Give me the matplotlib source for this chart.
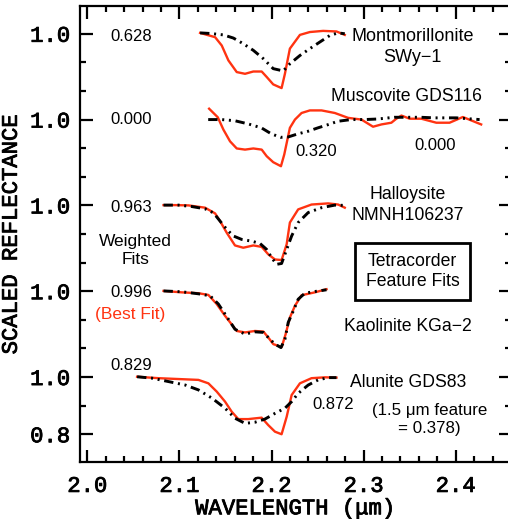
import numpy as np
import matplotlib.pyplot as plt
import matplotlib.patheffects as pe

# Longitudes de onda (um) y reflectancia escalada de cada mineral
# rojo = espectro de referencia, negro = ajuste ponderado
mont_x_red = [2.1224, 2.1387, 2.1459, 2.1531, 2.1622, 2.1712, 2.1802, 2.1893, 2.1947,
              2.2018, 2.2109, 2.2145, 2.2199, 2.2308, 2.2416, 2.2560, 2.2705, 2.2795]
mont_y_red = [1.003, 0.988, 0.959, 0.907, 0.866, 0.860, 0.868, 0.868, 0.849,
              0.823, 0.810, 0.860, 0.948, 0.996, 1.006, 1.010, 1.008, 0.996]
mont_x_blk = [2.1224, 2.1333, 2.1477, 2.1585, 2.1694, 2.1802, 2.1910, 2.2018, 2.2127,
              2.2199, 2.2308, 2.2416, 2.2524, 2.2633, 2.2723, 2.2795]
mont_y_blk = [1.003, 1.001, 0.996, 0.985, 0.965, 0.942, 0.913, 0.878, 0.870,
              0.895, 0.924, 0.948, 0.971, 0.994, 1.003, 1.000]

musc_x_red = [2.1322, 2.1416, 2.1477, 2.1549, 2.1622, 2.1712, 2.1802, 2.1893, 2.1947,
              2.2018, 2.2102, 2.2138, 2.2199, 2.2254, 2.2326, 2.2416, 2.2543, 2.2687,
              2.2831, 2.2976, 2.3102, 2.3193, 2.3301, 2.3355, 2.3410, 2.3500, 2.3626,
              2.3789, 2.3933, 2.4077, 2.4276]
musc_y_red = [1.038, 1.008, 0.965, 0.924, 0.899, 0.895, 0.899, 0.895, 0.872,
              0.851, 0.837, 0.878, 0.971, 1.000, 1.023, 1.032, 1.032, 1.023,
              1.006, 1.000, 0.975, 0.983, 0.989, 1.003, 1.014, 1.003, 1.003,
              0.989, 0.989, 1.009, 0.983]
musc_x_blk = [2.1312, 2.1456, 2.1600, 2.1745, 2.1890, 2.1998, 2.2099, 2.2178, 2.2286,
              2.2395, 2.2503, 2.2611, 2.2719, 2.2864, 2.3008, 2.3152, 2.3333, 2.3477,
              2.3622, 2.3766, 2.4006, 2.4259]
musc_y_blk = [1.000, 1.000, 0.996, 0.985, 0.971, 0.950, 0.938, 0.939, 0.950,
              0.959, 0.971, 0.982, 0.994, 1.000, 1.000, 1.002, 1.008, 1.008,
              1.008, 1.006, 1.006, 1.000]

hall_x_red = [2.0827, 2.0953, 2.1098, 2.1278, 2.1387, 2.1441, 2.1514, 2.1603, 2.1693,
              2.1802, 2.1893, 2.1964, 2.2037, 2.2109, 2.2164, 2.2199, 2.2289, 2.2434,
              2.2614, 2.2723, 2.2795]
hall_y_red = [1.001, 1.001, 1.000, 0.992, 0.972, 0.945, 0.904, 0.860, 0.852,
              0.860, 0.855, 0.829, 0.811, 0.809, 0.864, 0.940, 0.986, 1.003,
              1.007, 1.003, 0.992]
hall_x_blk = [2.0827, 2.0990, 2.1134, 2.1278, 2.1369, 2.1441, 2.1514, 2.1586, 2.1676,
              2.1784, 2.1874, 2.1947, 2.2001, 2.2055, 2.2109, 2.2164, 2.2218, 2.2289,
              2.2398, 2.2543, 2.2687, 2.2795]
hall_y_blk = [1.001, 1.001, 0.996, 0.988, 0.974, 0.945, 0.916, 0.893, 0.881,
              0.875, 0.867, 0.846, 0.817, 0.794, 0.797, 0.846, 0.893, 0.940,
              0.975, 0.992, 1.001, 1.000]

kaol_x_red = [2.0827, 2.1026, 2.1206, 2.1314, 2.1405, 2.1495, 2.1622, 2.1712, 2.1820,
              2.1911, 2.1965, 2.2019, 2.2110, 2.2153, 2.2199, 2.2254, 2.2326, 2.2470,
              2.2597]
kaol_y_red = [1.001, 0.996, 0.993, 0.987, 0.955, 0.914, 0.861, 0.856, 0.861,
              0.859, 0.838, 0.815, 0.805, 0.850, 0.908, 0.949, 0.986, 0.996,
              1.007]
kaol_x_blk = [2.0827, 2.1026, 2.1206, 2.1333, 2.1423, 2.1495, 2.1603, 2.1712, 2.1820,
              2.1911, 2.1983, 2.2037, 2.2102, 2.2145, 2.2181, 2.2236, 2.2289, 2.2362,
              2.2470, 2.2597]
kaol_y_blk = [1.001, 0.998, 0.991, 0.984, 0.955, 0.920, 0.867, 0.850, 0.858,
              0.856, 0.832, 0.815, 0.803, 0.832, 0.891, 0.931, 0.972, 0.993,
              0.999, 1.005]

alun_x_red = [2.0540, 2.0773, 2.0990, 2.1206, 2.1314, 2.1405, 2.1495, 2.1567, 2.1639,
              2.1747, 2.1892, 2.1964, 2.2037, 2.2109, 2.2164, 2.2218, 2.2308, 2.2434,
              2.2579, 2.2705]
alun_y_red = [1.001, 0.996, 0.993, 0.990, 0.978, 0.949, 0.914, 0.879, 0.853,
              0.853, 0.858, 0.832, 0.809, 0.800, 0.861, 0.937, 0.978, 0.996,
              0.999, 0.998]
alun_x_blk = [2.0540, 2.0703, 2.0883, 2.1063, 2.1206, 2.1354, 2.1495, 2.1603, 2.1712,
              2.1820, 2.1928, 2.2037, 2.2145, 2.2218, 2.2289, 2.2398, 2.2506, 2.2615,
              2.2705]
alun_y_blk = [1.001, 0.996, 0.984, 0.972, 0.955, 0.926, 0.891, 0.856, 0.838,
              0.842, 0.853, 0.873, 0.891, 0.914, 0.943, 0.972, 0.990, 0.998,
              0.998]

# desplazamiento vertical de cada espectro
desplazamientos = [1.2, 0.9, 0.6, 0.3, 0.0]
ajustes = ["0.628", "0.000", "0.963", "0.996", "0.829"]
ajustes_y = [2.189, 1.899, 1.594, 1.294, 1.042]

rojo = "#ff3311"
sans = "Liberation Sans"
mono = "Liberation Mono"
grueso = [pe.withStroke(linewidth=0.6, foreground="black")]

fig = plt.figure(figsize=(5.08, 5.19), dpi=100)
ax = fig.add_axes([80 / 508, 57 / 519, 431 / 508, 456 / 519])

curvas = [(mont_x_red, mont_y_red, mont_x_blk, mont_y_blk),
          (musc_x_red, musc_y_red, musc_x_blk, musc_y_blk),
          (hall_x_red, hall_y_red, hall_x_blk, hall_y_blk),
          (kaol_x_red, kaol_y_red, kaol_x_blk, kaol_y_blk),
          (alun_x_red, alun_y_red, alun_x_blk, alun_y_blk)]

estilo_negro = (0, (3.2, 1.6, 0.7, 1.6, 0.7, 1.6))
for (xr, yr, xb, yb), d in zip(curvas, desplazamientos):
    ax.plot(xr, np.array(yr) + d, color=rojo, lw=1.7, zorder=2)
    ax.plot(xb, np.array(yb) + d, color="black", lw=2.1,
            linestyle=estilo_negro, zorder=3)

# valores de ajuste a la izquierda
for texto, yy in zip(ajustes, ajustes_y):
    ax.text(2.025, yy, texto, fontsize=12, family=sans,
            ha="left", va="center")

ax.text(2.052, 1.444, "Weighted\nFits", fontsize=12.5, family=sans,
        ha="center", va="center", linespacing=1.25)
ax.text(2.0466, 1.217, "(Best Fit)", fontsize=12.5, family=sans,
        color=rojo, ha="center", va="center")

ax.text(2.3532, 2.154, "Montmorillonite\nSWy\u22121", fontsize=13, family=sans,
        ha="center", va="center", linespacing=1.25)
ax.text(2.3467, 1.979, "Muscovite GDS116", fontsize=12.7, family=sans,
        ha="center", va="center")
ax.text(2.2254, 1.787, "0.320", fontsize=12, family=sans, ha="left", va="center")
ax.text(2.3554, 1.808, "0.000", fontsize=12, family=sans, ha="left", va="center")
ax.text(2.3478, 1.601, "Halloysite\nNMNH106237", fontsize=12.7, family=sans,
        ha="center", va="center", linespacing=1.25)
ax.text(2.3532, 1.369, "Tetracorder\nFeature Fits", fontsize=12.7, family=sans,
        ha="center", va="center", linespacing=1.2,
        bbox=dict(boxstyle="square,pad=0.6", fc="white", ec="black", lw=2))
ax.text(2.3483, 1.175, "Kaolinite KGa\u22122", fontsize=12.7, family=sans,
        ha="center", va="center")
ax.text(2.3478, 0.9825, "Alunite GDS83", fontsize=12.7, family=sans,
        ha="center", va="center")
ax.text(2.2438, 0.9056, "0.872", fontsize=12, family=sans, ha="left", va="center")
ax.text(2.3716, 0.8514, "(1.5 \u03bcm feature\n= 0.378)", fontsize=12.2, family=sans,
        ha="center", va="center", linespacing=1.25)

ax.set_xlim(1.992, 2.46)
ax.set_ylim(0.703, 2.297)

ax.set_xticks([2.0, 2.1, 2.2, 2.3, 2.4])
ax.set_xticklabels(["2.0", "2.1", "2.2", "2.3", "2.4"])
ax.set_xticks(np.arange(2.0, 2.46, 0.02), minor=True)
ax.set_yticks([0.8, 1.0, 1.3, 1.6, 1.9, 2.2])
ax.set_yticklabels(["0.8", "1.0", "1.0", "1.0", "1.0", "1.0"])
ax.set_yticks([0.9, 1.1, 1.2, 1.4, 1.5, 1.7, 1.8, 2.0, 2.1], minor=True)

ax.tick_params(which="both", direction="in", top=True, right=True, width=1.6)
ax.tick_params(which="major", length=9)
ax.tick_params(which="minor", length=4.5)
ax.tick_params(axis="x", pad=10)
ax.tick_params(axis="y", pad=7)
for lab in ax.get_xticklabels() + ax.get_yticklabels():
    lab.set_family(mono)
    lab.set_fontsize(16)
    lab.set_path_effects(grueso)

for s in ax.spines.values():
    s.set_linewidth(1.6)

ax.set_xlabel("WAVELENGTH (\u03bcm)", family=mono, fontsize=16,
              labelpad=1, path_effects=grueso)
ax.set_ylabel("SCALED REFLECTANCE", family=mono, fontsize=16,
              labelpad=6, path_effects=grueso)

plt.savefig("out.png", dpi=100)
